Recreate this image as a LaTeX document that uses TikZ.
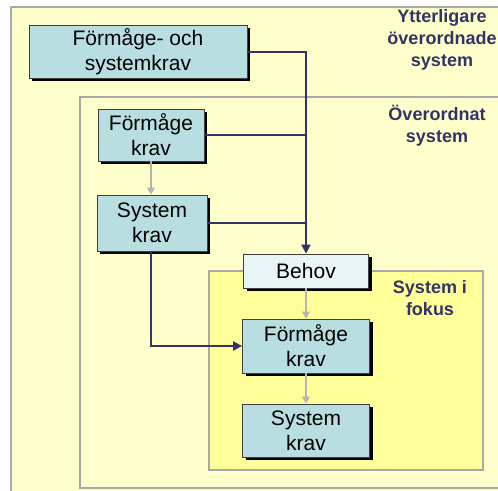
\documentclass[tikz,border=0pt]{standalone}
\usepackage{fontspec}
\setmainfont{Liberation Sans}
\usetikzlibrary{arrows.meta,shadows}
\definecolor{paleyellow}{HTML}{FFFFCC}
\definecolor{focusyellow}{HTML}{FFFF99}
\definecolor{framegray}{HTML}{A8A8A8}
\definecolor{boxcyan}{HTML}{B8DEE1}
\definecolor{boxpale}{HTML}{E8F5F7}
\definecolor{navy}{HTML}{333366}
\definecolor{flowgray}{HTML}{B4B4B4}
\tikzset{
  region/.style={draw=framegray, line width=1.5pt},
  reqbox/.style={draw=black!75, line width=0.8pt, fill=boxcyan, align=center,
    font=\fontsize{21}{25}\selectfont, inner sep=0pt,
    general shadow={fill=black, shadow xshift=3pt, shadow yshift=-3pt}},
  levellabel/.style={text=navy, align=center, font=\fontsize{18}{22}\selectfont\bfseries},
  mainflow/.style={draw=navy, line width=2pt},
  mainarrow/.style={mainflow, -{Triangle[length=9pt,width=9pt]}},
  sidearrow/.style={draw=flowgray, line width=1.3pt, -{Triangle[length=7pt,width=8pt]}},
}
\begin{document}
\begin{tikzpicture}[x=1pt,y=-1pt]
\useasboundingbox (0,0) rectangle (498,490);
% nested system levels
\draw[region, fill=paleyellow] (11,7) rectangle (530,520);
\draw[region, fill=paleyellow] (80,97) rectangle (530,488);
\draw[region, fill=focusyellow] (209,271) rectangle (483,470);

\node[levellabel] (lblouter) at (442,40) {Ytterligare\\överordnade\\system};
\node[levellabel] (lblmid) at (437,126) {Överordnat\\system};
\node[levellabel] (lblfocus) at (430,298) {System i\\fokus};

% requirement boxes
\node[reqbox, minimum width=218pt, minimum height=53pt] (big) at (138,51.5) {Förmåge- och\\systemkrav};
\node[reqbox, minimum width=106pt, minimum height=52pt] (fk1) at (151,135) {Förmåge\\krav};
\node[reqbox, minimum width=110pt, minimum height=56pt] (sk1) at (152,223) {System\\krav};
\node[reqbox, fill=boxpale, minimum width=125pt, minimum height=34pt] (behov) at (306,271) {Behov};
\node[reqbox, minimum width=127pt, minimum height=54pt] (fk2) at (306,346) {Förmåge\\krav};
\node[reqbox, minimum width=127pt, minimum height=53pt] (sk2) at (306,430.5) {System\\krav};

% flows between levels
\draw[mainarrow] (big.east) -| (behov.north);
\draw[mainflow] (fk1.east) -- (fk1.east -| behov.north);
\draw[mainflow] (sk1.east) -- (sk1.east -| behov.north);
\draw[mainarrow] ([xshift=-1pt]sk1.south) |- (fk2.west);

% flows within a level
\draw[sidearrow] (fk1.south) -- (fk1.south |- sk1.north);
\draw[sidearrow] (behov.south) -- (fk2.north);
\draw[sidearrow] (fk2.south) -- (sk2.north);
\end{tikzpicture}
\end{document}
